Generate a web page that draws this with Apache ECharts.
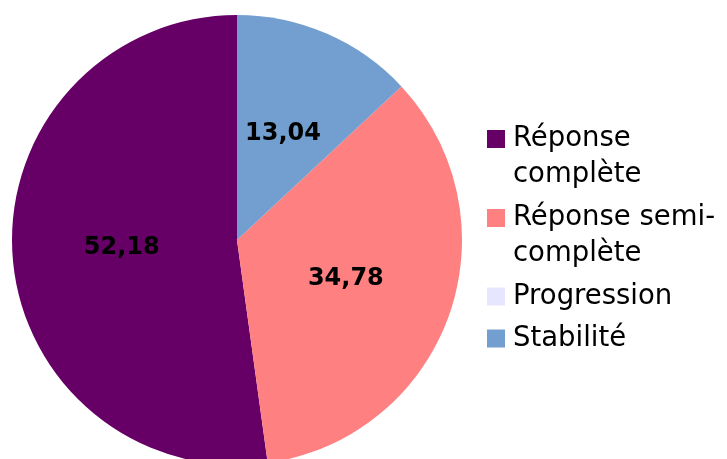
<!DOCTYPE html>
<html>
<head>
<meta charset="utf-8">
<script src="https://cdn.jsdelivr.net/npm/echarts@6/dist/echarts.min.js"></script>
<style>
  html, body { margin: 0; padding: 0; background: #fff; }
  #main { width: 727px; height: 459px; }
</style>
</head>
<body>
<div id="main"></div>
<script>
let categories = ['Réponse complète', 'Réponse semi-complète', 'Progression', 'Stabilité'];
let values = [52.18, 34.78, 0, 13.04];
let colors = ['#660066', '#ff8080', '#e6e6ff', '#729fcf'];
let legendLabels = ['Réponse\ncomplète', 'Réponse semi-\ncomplète', 'Progression', 'Stabilité'];

let myChart = echarts.init(document.getElementById('main'));

let pieData = categories.map(function (name, i) {
    return { name: name, value: values[i], itemStyle: { color: colors[i] } };
});

// one legend per item; an empty first line keeps the square on the first text line
let legendTops = [85, 164, 278.5, 320.5];
let legends = categories.map(function (name, i) {
    let label = legendLabels[i];
    if (label.indexOf('\n') >= 0) label = '\n' + label;
    return {
        left: 487,
        top: legendTops[i],
        padding: 0,
        orient: 'vertical',
        icon: 'path://M0,0h10v10h-10z',
        symbolKeepAspect: true,
        itemWidth: 24,
        itemHeight: 18,
        selectedMode: false,
        data: [name],
        formatter: function () { return label; },
        textStyle: {
            fontFamily: 'DejaVu Sans',
            fontSize: 27.5,
            lineHeight: 36,
            color: '#000'
        }
    };
});

let option = {
    animation: false,
    backgroundColor: '#fff',
    legend: legends,
    series: [{
        type: 'pie',
        center: [237, 240],
        radius: 225,
        startAngle: 90,
        clockwise: false,
        data: pieData,
        itemStyle: { borderWidth: 0 },
        label: {
            show: true,
            position: 'inside',
            fontFamily: 'DejaVu Sans',
            fontSize: 24,
            fontWeight: 'bold',
            color: '#000',
            formatter: function (p) {
                return p.value === 0 ? '' : String(p.value).replace('.', ',');
            }
        },
        labelLine: { show: false },
        emphasis: { disabled: true }
    }]
};

myChart.setOption(option);
</script>
</body>
</html>
